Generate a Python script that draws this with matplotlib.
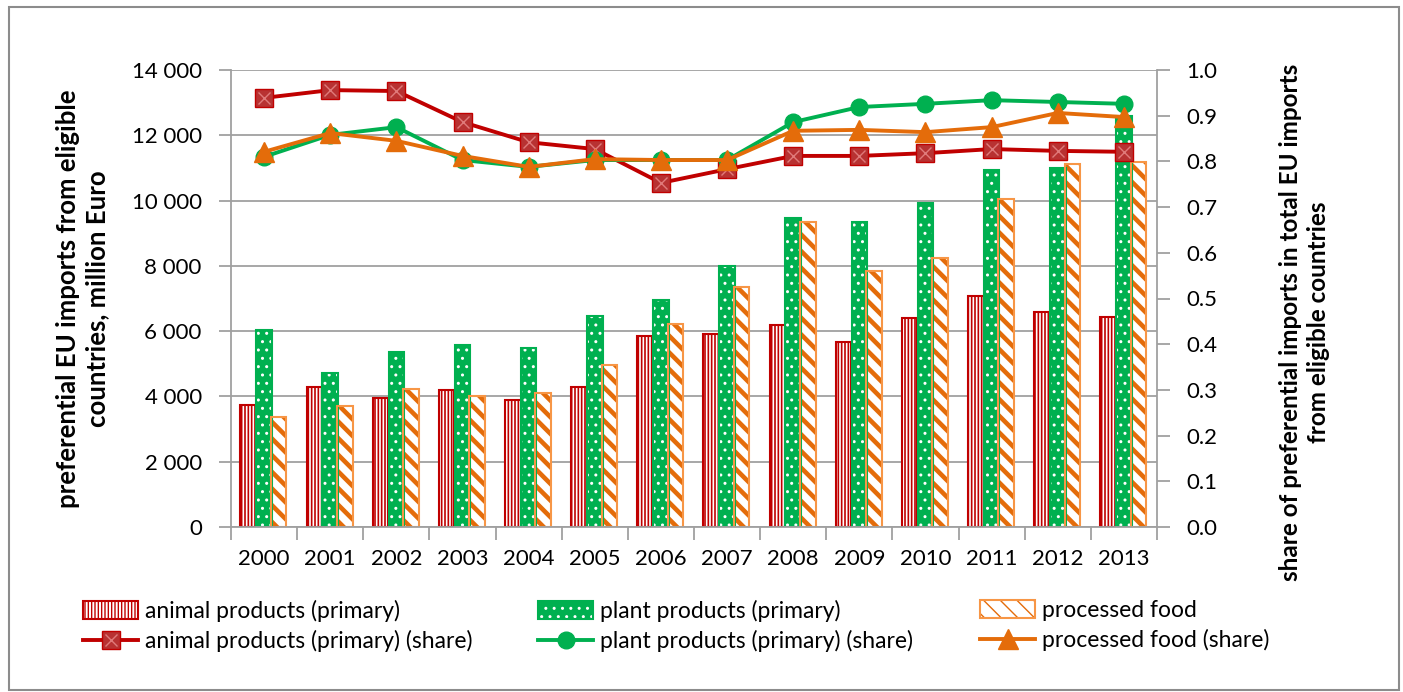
import matplotlib
matplotlib.use("Agg")
import matplotlib.pyplot as plt
import matplotlib.patches as mpatches
from matplotlib.legend_handler import HandlerTuple
from matplotlib.ticker import FuncFormatter, MultipleLocator
import numpy as np

years = ["2000", "2001", "2002", "2003", "2004", "2005", "2006",
         "2007", "2008", "2009", "2010", "2011", "2012", "2013"]

animal_vals = [3730, 4300, 3950, 4200, 3900, 4300, 5850, 5920, 6200, 5680, 6400, 7080, 6580, 6420]
plant_vals = [6020, 4720, 5350, 5580, 5480, 6450, 6950, 8000, 9480, 9350, 9920, 10950, 11000, 12600]
processed_vals = [3380, 3700, 4230, 4000, 4120, 4950, 6230, 7350, 9350, 7850, 8230, 10050, 11130, 11180]

animal_share = [0.939, 0.956, 0.954, 0.886, 0.842, 0.827, 0.753, 0.783, 0.812, 0.812, 0.818, 0.827, 0.823, 0.821]
plant_share = [0.810, 0.858, 0.875, 0.803, 0.788, 0.803, 0.803, 0.803, 0.886, 0.919, 0.926, 0.934, 0.930, 0.926]
processed_share = [0.821, 0.862, 0.845, 0.812, 0.788, 0.805, 0.803, 0.803, 0.867, 0.869, 0.864, 0.875, 0.906, 0.897]

labels_bars = ["animal products (primary)", "plant products (primary)", "processed food"]
labels_lines = ["animal products (primary) (share)", "plant products (primary) (share)",
                "processed food (share)"]

RED = "#C00000"
GREEN = "#00B050"
ORANGE = "#E46C0A"
ORANGE_EDGE = "#F79646"
GRAY = "#A0A0A0"

plt.rcParams['font.family'] = ['Lato', 'DejaVu Sans']

W, H = 1403, 692
fig = plt.figure(figsize=(W / 100, H / 100), dpi=100)

# outer frame
fig.patches.append(mpatches.Rectangle((9 / W, 2 / H), (1399 - 9) / W, (685 - 2) / H,
                                      transform=fig.transFigure, fill=False,
                                      edgecolor="#8C8C8C", linewidth=1.5))

ax = fig.add_axes([231 / W, (H - 527) / H, 926 / W, 457 / H])
x = np.arange(len(years))
bw = 0.235

ax.set_axisbelow(True)
ax.yaxis.grid(True, color=GRAY, linewidth=1.3)

# animal bars
with plt.rc_context({'hatch.linewidth': 1.2}):
    ba = ax.bar(x - 0.24, animal_vals, bw, facecolor="white", edgecolor=RED,
                hatch="|||||", linewidth=1.5, zorder=2)
# plant bars: green face with white dots
with plt.rc_context({'hatch.linewidth': 1.0}):
    bp = ax.bar(x, plant_vals, bw, facecolor=GREEN, edgecolor="white",
                hatch="..", linewidth=0, zorder=2)
bp2 = ax.bar(x, plant_vals, bw, facecolor="none", edgecolor=GREEN,
             linewidth=1.5, zorder=2.1)
# processed bars
with plt.rc_context({'hatch.linewidth': 3.3}):
    bf = ax.bar(x + 0.22, processed_vals, bw, facecolor="white", edgecolor=ORANGE,
                hatch="\\\\", linewidth=0, zorder=2)
bf2 = ax.bar(x + 0.22, processed_vals, bw, facecolor="none", edgecolor=ORANGE_EDGE,
             linewidth=1.5, zorder=2.1)

ax.set_xlim(-0.5, len(years) - 0.5)
ax.set_ylim(0, 14000)
ax.yaxis.set_major_locator(MultipleLocator(2000))
ax.yaxis.set_major_formatter(FuncFormatter(lambda v, p: f"{int(v):,}".replace(",", " ")))
ax.set_xticks(np.arange(-0.5, len(years), 1.0))
ax.set_xticklabels([])
ax.set_xticks(x, minor=True)
ax.set_xticklabels(years, minor=True)
ax.tick_params(axis="x", which="major", length=9, color=GRAY, width=1.3)
ax.tick_params(axis="x", which="minor", length=0, pad=16, labelsize=16)
ax.tick_params(axis="y", length=9, color=GRAY, width=1.3, labelsize=16, pad=12)
for s in ["left", "bottom", "right"]:
    ax.spines[s].set_color(GRAY)
    ax.spines[s].set_linewidth(1.3)
ax.spines["top"].set_visible(False)
ax.set_ylabel("preferential EU imports from eligible\ncountries, million Euro",
              fontsize=18.5, fontweight="bold", labelpad=16, linespacing=1.25)

ax2 = ax.twinx()
ax2.set_ylim(0, 1.0)
ax2.yaxis.set_major_locator(MultipleLocator(0.1))
ax2.yaxis.set_major_formatter(FuncFormatter(lambda v, p: f"{v:.1f}"))
ax2.tick_params(axis="y", length=9, color=GRAY, width=1.3, labelsize=16, pad=12)
for s in ["left", "bottom", "right", "top"]:
    ax2.spines[s].set_visible(False)
ax2.set_ylabel("share of preferential imports in total EU imports\nfrom eligible countries",
               fontsize=17.5, fontweight="bold", linespacing=1.25)
ax2.yaxis.set_label_coords(1.132, 0.447)

la, = ax2.plot(x, animal_share, color=RED, linewidth=2.8, marker="s", markersize=13,
               markerfacecolor="#B83232", markeredgecolor="#C00000", zorder=3)
la_x, = ax2.plot(x, animal_share, linestyle="none", marker="x", markersize=8,
                 markeredgecolor="#E07A7A", markeredgewidth=1.0, zorder=3.1)
lp, = ax2.plot(x, plant_share, color=GREEN, linewidth=2.8, marker="o", markersize=12,
               markerfacecolor=GREEN, markeredgecolor=GREEN, zorder=3.2)
lf, = ax2.plot(x, processed_share, color=ORANGE, linewidth=2.8, marker="^", markersize=15,
               markerfacecolor=ORANGE, markeredgecolor=ORANGE, zorder=3.3)

# legends: three columns, each with a bar and a line entry
legend_cols = [
    ((ba[0],), (la, la_x), 83),
    ((bp[0], bp2[0]), (lp,), 538),
    ((bf[0], bf2[0]), (lf,), 980),
]
for i, (bh, lh, xpix) in enumerate(legend_cols):
    leg = fig.legend([bh, lh], [labels_bars[i], labels_lines[i]],
                     handler_map={tuple: HandlerTuple(ndivide=1, pad=0)},
                     loc="upper left", bbox_to_anchor=(xpix / W, 1 - 600 / H),
                     frameon=False, fontsize=16.5, handlelength=2.4, handleheight=0.8,
                     handletextpad=0.3, labelspacing=0.35, borderpad=0, borderaxespad=0)

fig.savefig("out.png", dpi=100)
